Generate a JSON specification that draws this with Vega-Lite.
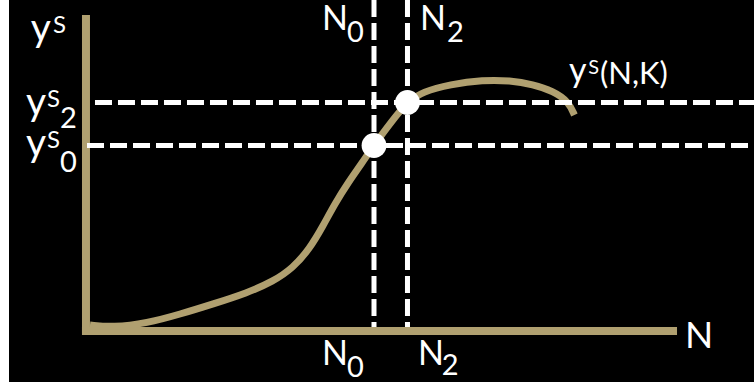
{
  "$schema": "https://vega.github.io/schema/vega-lite/v6.json",
  "width": 745,
  "height": 382,
  "autosize": {"type": "none"},
  "padding": {"left": 9, "top": 0, "right": 0, "bottom": 0},
  "background": "white",
  "config": {"view": {"fill": "black", "stroke": null}},
  "datasets": {
    "axes": [
      {"x": 0, "y": 105.33, "x2": 0, "y2": -0.67},
      {"x": -0.67, "y": 0, "x2": 98.5, "y2": 0}
    ],
    "curve": [
      {"x": 0.67, "y": 2},
      {"x": 4.5, "y": 1.2},
      {"x": 10.17, "y": 2.6},
      {"x": 15.67, "y": 5.6},
      {"x": 21.17, "y": 9},
      {"x": 26.83, "y": 12.67},
      {"x": 31.17, "y": 16.5},
      {"x": 34.5, "y": 21},
      {"x": 37.3, "y": 27.5},
      {"x": 39.5, "y": 35},
      {"x": 41.5, "y": 42.5},
      {"x": 43.7, "y": 49.5},
      {"x": 46, "y": 56},
      {"x": 48, "y": 62},
      {"x": 51, "y": 70},
      {"x": 53.5, "y": 76.33},
      {"x": 56.17, "y": 79.8},
      {"x": 60.67, "y": 82.2},
      {"x": 66.17, "y": 83.67},
      {"x": 70.67, "y": 83.5},
      {"x": 74.5, "y": 82.2},
      {"x": 77.83, "y": 80},
      {"x": 80.4, "y": 76.5},
      {"x": 81.4, "y": 72}
    ],
    "dashes": [
      {"x": 1.5, "y": 76.17, "x2": 111.33, "y2": 76.17},
      {"x": 0.17, "y": 61.83, "x2": 111.33, "y2": 61.83},
      {"x": 48, "y": 110.33, "x2": 48, "y2": 1.33},
      {"x": 53.58, "y": 110.33, "x2": 53.58, "y2": 1.33}
    ],
    "points": [
      {"x": 48, "y": 61.83},
      {"x": 53.58, "y": 76.17}
    ],
    "labels": [
      {"label": "y", "role": "ybig", "x": -9.2, "y": 96.67},
      {"label": "S", "role": "sup", "x": -5.5, "y": 99.33},
      {"label": "y", "role": "ybig", "x": -10, "y": 72},
      {"label": "S", "role": "sup", "x": -6.5, "y": 74.67},
      {"label": "2", "role": "sub", "x": -4.33, "y": 67.67},
      {"label": "y", "role": "ybig", "x": -10, "y": 58.33},
      {"label": "S", "role": "sup", "x": -6.5, "y": 61},
      {"label": "0", "role": "sub", "x": -4.33, "y": 53},
      {"label": "N", "role": "main", "x": 39.33, "y": 100.33},
      {"label": "0", "role": "sub", "x": 43.5, "y": 96.33},
      {"label": "N", "role": "main", "x": 55.67, "y": 100.33},
      {"label": "2", "role": "sub", "x": 60.17, "y": 96.33},
      {"label": "N", "role": "main", "x": 39.33, "y": -11.33},
      {"label": "0", "role": "sub", "x": 43.5, "y": -15.33},
      {"label": "N", "role": "main", "x": 55.33, "y": -11.33},
      {"label": "2", "role": "sub", "x": 59.3, "y": -14.67},
      {"label": "N", "role": "axisN", "x": 99.83, "y": -5.67},
      {"label": "y", "role": "nky", "x": 80.5, "y": 83},
      {"label": "S", "role": "nksup", "x": 83.7, "y": 85.6},
      {"label": "(N,K)", "role": "nk", "x": 85.67, "y": 82.3}
    ]
  },
  "encoding": {
    "x": {"field": "x", "type": "quantitative", "axis": null, "scale": {"domain": [-12.83, 111.33], "nice": false, "zero": false}},
    "y": {"field": "y", "type": "quantitative", "axis": null, "scale": {"domain": [-17, 110.33], "nice": false, "zero": false}}
  },
  "layer": [
    {
      "data": {"name": "axes"},
      "mark": {"type": "rule", "color": "#b0a070", "strokeWidth": 8, "strokeCap": "butt"},
      "encoding": {"x2": {"field": "x2"}, "y2": {"field": "y2"}}
    },
    {
      "data": {"name": "curve"},
      "mark": {"type": "line", "color": "#b0a070", "strokeWidth": 7, "interpolate": "basis", "strokeCap": "butt"}
    },
    {
      "data": {"name": "dashes"},
      "mark": {"type": "rule", "color": "white", "strokeWidth": 5, "strokeDash": [17, 6], "strokeCap": "butt"},
      "encoding": {"x2": {"field": "x2"}, "y2": {"field": "y2"}}
    },
    {
      "data": {"name": "points"},
      "mark": {"type": "circle", "color": "white", "opacity": 1, "size": 615}
    },
    {
      "data": {"name": "labels"},
      "transform": [{"filter": "datum.role === 'ybig'"}],
      "mark": {"type": "text", "color": "white", "align": "left", "baseline": "alphabetic", "font": "Lato", "fontSize": 39},
      "encoding": {"text": {"field": "label"}}
    },
    {
      "data": {"name": "labels"},
      "transform": [{"filter": "datum.role === 'main'"}],
      "mark": {"type": "text", "color": "white", "align": "left", "baseline": "alphabetic", "font": "Lato", "fontSize": 34},
      "encoding": {"text": {"field": "label"}}
    },
    {
      "data": {"name": "labels"},
      "transform": [{"filter": "datum.role === 'sup'"}],
      "mark": {"type": "text", "color": "white", "align": "left", "baseline": "alphabetic", "font": "Lato", "fontSize": 24},
      "encoding": {"text": {"field": "label"}}
    },
    {
      "data": {"name": "labels"},
      "transform": [{"filter": "datum.role === 'sub'"}],
      "mark": {"type": "text", "color": "white", "align": "left", "baseline": "alphabetic", "font": "Lato", "fontSize": 29},
      "encoding": {"text": {"field": "label"}}
    },
    {
      "data": {"name": "labels"},
      "transform": [{"filter": "datum.role === 'nk'"}],
      "mark": {"type": "text", "color": "white", "align": "left", "baseline": "alphabetic", "font": "Lato", "fontSize": 31},
      "encoding": {"text": {"field": "label"}}
    },
    {
      "data": {"name": "labels"},
      "transform": [{"filter": "datum.role === 'nky'"}],
      "mark": {"type": "text", "color": "white", "align": "left", "baseline": "alphabetic", "font": "Lato", "fontSize": 34},
      "encoding": {"text": {"field": "label"}}
    },
    {
      "data": {"name": "labels"},
      "transform": [{"filter": "datum.role === 'nksup'"}],
      "mark": {"type": "text", "color": "white", "align": "left", "baseline": "alphabetic", "font": "Lato", "fontSize": 20},
      "encoding": {"text": {"field": "label"}}
    },
    {
      "data": {"name": "labels"},
      "transform": [{"filter": "datum.role === 'axisN'"}],
      "mark": {"type": "text", "color": "white", "align": "left", "baseline": "alphabetic", "font": "Lato", "fontSize": 37},
      "encoding": {"text": {"field": "label"}}
    }
  ]
}
